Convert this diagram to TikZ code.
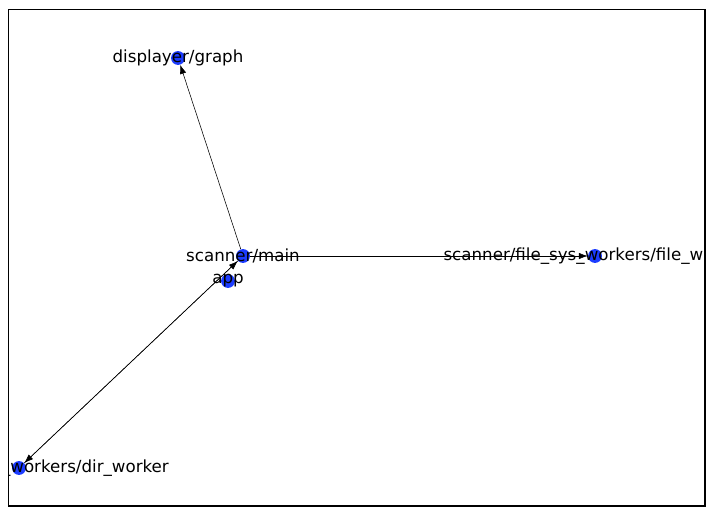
\documentclass[tikz,border=0pt]{standalone}
\usepackage{fontspec}
\setmainfont{DejaVu Sans}
\usetikzlibrary{arrows.meta,backgrounds}
\definecolor{nodeblue}{RGB}{28,60,255}
\begin{document}
\begin{tikzpicture}[x=0.72pt,y=-0.72pt,
    vertex/.style={circle,fill=nodeblue,inner sep=0pt,minimum size=10pt},
    vlabel/.style={font=\fontsize{12}{14}\selectfont,text=black}]
  \useasboundingbox (0,0) rectangle (713,516);
  \begin{scope}
    \clip (8.5,9.5) rectangle (705,506);
    \draw
      (178,58) node[vertex,label={[vlabel]center:displayer/graph}] (graph){}
      (243,256) node[vertex,label={[vlabel]center:scanner/main}] (main){}
      (228,281) node[vertex,label={[vlabel]center:app}] (app){}
      (595,256) node[vertex,label={[vlabel]center:scanner/file\_sys\_workers/file\_worker}] (filew){}
      (19,468) node[vertex,label={[vlabel]center:scanner/file\_sys\_workers/dir\_worker}] (dirw){};
    \begin{scope}[on background layer,-{Latex[length=6.5pt,width=4.6pt]},line width=0.9pt]
      \draw (main) to (graph);
      \draw (main) to (filew);
      \draw (main) to (dirw);
      \draw (dirw) to (main);
    \end{scope}
  \end{scope}
  \draw[line width=0.8pt] (8.5,9.5) rectangle (705,506);
\end{tikzpicture}
\end{document}
